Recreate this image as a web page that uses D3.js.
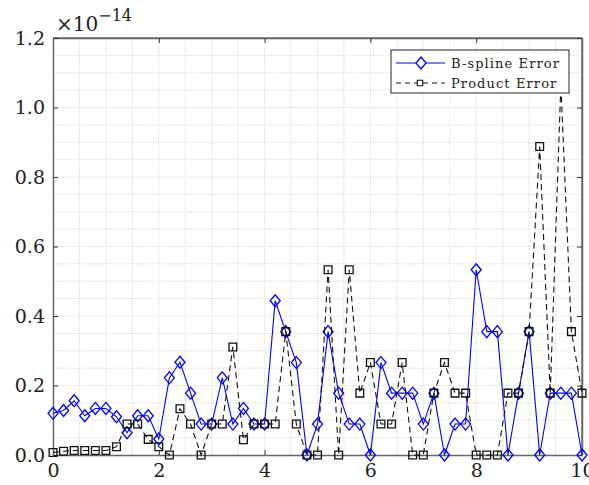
<!DOCTYPE html>
<html>
<head>
<meta charset="utf-8">
<script src="https://cdn.jsdelivr.net/npm/d3@7"></script>
<style>
  body { margin: 0; background: #fff; }
  svg { display: block; }
  .tick text { font-family: "DejaVu Serif", serif; font-size: 19px; fill: #222; }
</style>
</head>
<body>
<svg id="chart" width="589" height="485"></svg>
<script>
// sample points 0, 0.2, ..., 10 (values in units of 1e-14)
var xs = d3.range(0, 51).map(function (i) { return i / 5; });

var bsplineErr = [
  0.120, 0.128, 0.156, 0.113, 0.134, 0.134, 0.110, 0.064, 0.113, 0.113,
  0.046, 0.222, 0.267, 0.178, 0.089, 0.089, 0.222, 0.089, 0.134, 0.089,
  0.089, 0.444, 0.355, 0.266, 0.000, 0.089, 0.355, 0.178, 0.089, 0.089,
  0.000, 0.266, 0.178, 0.178, 0.178, 0.089, 0.178, 0.000, 0.089, 0.089,
  0.533, 0.355, 0.355, 0.000, 0.178, 0.355, 0.000, 0.178, 0.178, 0.178,
  0.000
];

var productErr = [
  0.007, 0.011, 0.013, 0.013, 0.013, 0.013, 0.024, 0.089, 0.089, 0.045,
  0.024, 0.000, 0.133, 0.089, 0.000, 0.089, 0.089, 0.311, 0.044, 0.089,
  0.089, 0.089, 0.355, 0.089, 0.000, 0.000, 0.533, 0.000, 0.533, 0.178,
  0.266, 0.089, 0.089, 0.266, 0.000, 0.000, 0.178, 0.266, 0.178, 0.178,
  0.000, 0.000, 0.000, 0.178, 0.178, 0.355, 0.888, 0.178, 1.066, 0.355,
  0.178
];

var xTicks = [0, 2, 4, 6, 8, 10];
var yTicks = [0, 0.2, 0.4, 0.6, 0.8, 1.0, 1.2];
var legendLabels = ["B-spline Error", "Product Error"];

(function () {
  var svg = d3.select("#chart");
  var pl = 53, pr = 582, pt = 38, pb = 455;

  var x = d3.scaleLinear().domain([0, 10]).range([pl, pr]);
  var y = d3.scaleLinear().domain([0, 1.2]).range([pb, pt]);

  // dotted grid
  var grid = svg.append("g");
  grid.selectAll(".gx").data(d3.range(1, 20).map(function (i) { return i * 0.5; }))
    .enter().append("line")
    .attr("x1", function (d) { return x(d); }).attr("x2", function (d) { return x(d); })
    .attr("y1", pt).attr("y2", pb)
    .attr("stroke", "#c8c8c8").attr("stroke-width", 0.8).attr("stroke-dasharray", "1,1.5");
  grid.selectAll(".gy").data(d3.range(1, 24).map(function (i) { return i * 0.05; }))
    .enter().append("line")
    .attr("y1", function (d) { return y(d); }).attr("y2", function (d) { return y(d); })
    .attr("x1", pl).attr("x2", pr)
    .attr("stroke", "#c8c8c8").attr("stroke-width", 0.8).attr("stroke-dasharray", "1,1.5");

  // frame
  svg.append("line").attr("x1", pl).attr("x2", pr).attr("y1", pt).attr("y2", pt)
    .attr("stroke", "#333").attr("stroke-width", 1);
  svg.append("line").attr("x1", pr).attr("x2", pr).attr("y1", pt).attr("y2", pb)
    .attr("stroke", "#333").attr("stroke-width", 1);

  // axes
  var fmt = function (d) { return d3.format(".1f")(d); };
  svg.append("g").attr("transform", "translate(0," + pb + ")")
    .call(d3.axisBottom(x).tickValues(xTicks).tickFormat(function (d) { return d; })
      .tickSizeInner(-5).tickSizeOuter(0).tickPadding(9));
  svg.append("g").attr("transform", "translate(0," + pt + ")")
    .call(d3.axisTop(x).tickValues(xTicks).tickFormat("").tickSizeInner(-5).tickSizeOuter(0));
  svg.append("g").attr("transform", "translate(" + pl + ",0)")
    .call(d3.axisLeft(y).tickValues(yTicks).tickFormat(fmt)
      .tickSizeInner(-5).tickSizeOuter(0).tickPadding(8));
  svg.append("g").attr("transform", "translate(" + pr + ",0)")
    .call(d3.axisRight(y).tickValues(yTicks).tickFormat("").tickSizeInner(-5).tickSizeOuter(0));
  svg.selectAll(".domain").attr("stroke", "#666").attr("stroke-width", 1.5);
  svg.selectAll(".tick line").attr("stroke", "#333");

  // exponent label
  var expo = svg.append("text").attr("x", 56).attr("y", 31)
    .attr("font-family", "DejaVu Serif, serif").attr("font-size", 20).attr("fill", "#222");
  expo.append("tspan").text("×10");
  expo.append("tspan").attr("dy", -10).attr("font-size", 16).text("−14");

  // wide diamond: half width 5, half height 6
  var wideDiamond = {
    draw: function (ctx, size) {
      var h = Math.sqrt(size / 2.4) * 1.2, w = h * 5 / 6;
      ctx.moveTo(0, -h); ctx.lineTo(w, 0); ctx.lineTo(0, h); ctx.lineTo(-w, 0); ctx.closePath();
    }
  };
  var diamond = d3.symbol().type(wideDiamond).size(60);
  var square = d3.symbol().type(d3.symbolSquare).size(60);

  // series lines
  var line = d3.line().x(function (d) { return x(d[0]); }).y(function (d) { return y(d[1]); });
  var bData = xs.map(function (v, i) { return [v, bsplineErr[i]]; });
  var pData = xs.map(function (v, i) { return [v, productErr[i]]; });

  svg.append("path").datum(bData).attr("d", line)
    .attr("fill", "none").attr("stroke", "#0000ff").attr("stroke-width", 1.1);
  svg.selectAll(".bm").data(bData).enter().append("path")
    .attr("d", diamond)
    .attr("transform", function (d) { return "translate(" + x(d[0]) + "," + y(d[1]) + ")"; })
    .attr("fill", "none").attr("stroke", "#0000ff").attr("stroke-width", 1.3);

  svg.append("path").datum(pData).attr("d", line)
    .attr("fill", "none").attr("stroke", "#111").attr("stroke-width", 1.1)
    .attr("stroke-dasharray", "6,4");
  svg.selectAll(".pm").data(pData).enter().append("path")
    .attr("d", square)
    .attr("transform", function (d) { return "translate(" + x(d[0]) + "," + y(d[1]) + ")"; })
    .attr("fill", "none").attr("stroke", "#111").attr("stroke-width", 1.3);

  // legend
  var lg = svg.append("g");
  lg.append("rect").attr("x", 391).attr("y", 50).attr("width", 178).attr("height", 43)
    .attr("fill", "#fff").attr("stroke", "#222").attr("stroke-width", 1);
  var rows = [63, 83];
  lg.append("line").attr("x1", 396).attr("x2", 445).attr("y1", rows[0]).attr("y2", rows[0])
    .attr("stroke", "#0000ff").attr("stroke-width", 1.1);
  lg.append("path").attr("d", diamond)
    .attr("transform", "translate(421," + rows[0] + ")")
    .attr("fill", "#fff").attr("stroke", "#0000ff").attr("stroke-width", 1.3);
  lg.append("line").attr("x1", 396).attr("x2", 445).attr("y1", rows[1]).attr("y2", rows[1])
    .attr("stroke", "#111").attr("stroke-width", 1.1).attr("stroke-dasharray", "5,4");
  lg.append("path").attr("d", d3.symbol().type(d3.symbolSquare).size(30))
    .attr("transform", "translate(420," + rows[1] + ")")
    .attr("fill", "#fff").attr("stroke", "#111").attr("stroke-width", 1.1);
  lg.selectAll(".lt").data(legendLabels).enter().append("text")
    .attr("x", 451).attr("y", function (d, i) { return rows[i] + 4.5; })
    .attr("font-family", "DejaVu Serif, serif").attr("font-size", 13)
    .attr("letter-spacing", 1.1).attr("fill", "#222")
    .text(function (d) { return d; });
})();
</script>
</body>
</html>
